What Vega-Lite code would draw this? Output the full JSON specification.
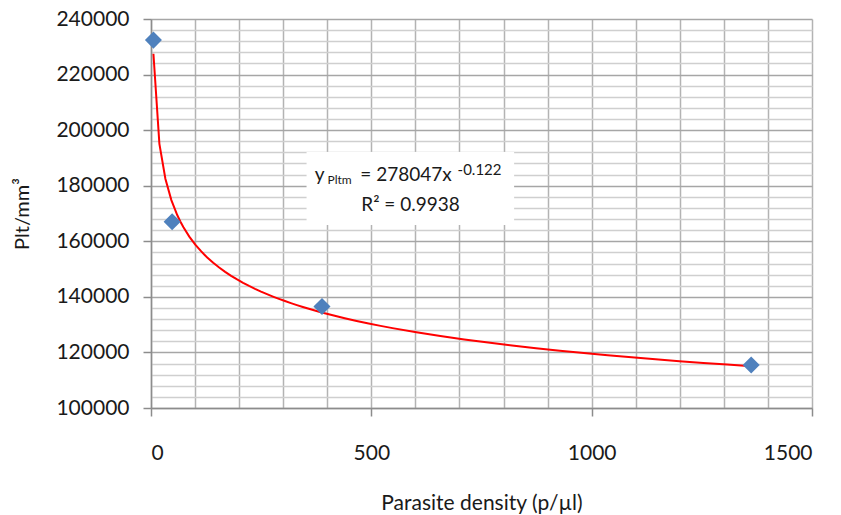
{
  "$schema": "https://vega.github.io/schema/vega-lite/v6.json",
  "width": 661,
  "height": 389,
  "autosize": "none",
  "padding": {"left": 151, "top": 19, "right": 29, "bottom": 107},
  "background": "white",
  "config": {
    "view": {"stroke": null},
    "font": "Lato",
    "axis": {"labelFont": "Lato", "titleFont": "Lato", "labelColor": "#1a1a1a", "titleColor": "#1a1a1a", "titleFontWeight": "normal", "domainColor": "#8c8c8c", "tickColor": "#8c8c8c", "domainWidth": 1.5, "tickWidth": 1.5}
  },
  "datasets": {
    "points": [
      {"density": 5.5, "plt": 232400},
      {"density": 48, "plt": 167000},
      {"density": 388, "plt": 136500},
      {"density": 1362, "plt": 115500}
    ],
    "note": [
      {"bx1": 353, "bx2": 824, "by1": 192100, "by2": 165900, "x": 589, "y1": 184000, "y2": 173000, "yv": "y", "sub": "Pltm", "eq": "= 278047x", "sup": "-0.122", "r2": "R² = 0.9938"}
    ]
  },
  "layer": [
    {
      "data": {"name": "points"},
      "mark": {"type": "point", "opacity": 0},
      "encoding": {
        "x": {
          "field": "density", "type": "quantitative",
          "scale": {"domain": [0, 1500], "nice": false},
          "axis": {
            "values": [0,100,200,300,400,500,600,700,800,900,1000,1100,1200,1300,1400,1500],
            "tickCount": 100,
            "format": "d",
            "labelExpr": "datum.value % 500 === 0 ? datum.label : ''",
            "tickOpacity": {"expr": "datum.value % 500 === 0 ? 1 : 0"},
            "grid": true, "gridColor": "#b3b3b3", "gridWidth": 1.5,
            "tickSize": 8, "labelPadding": 26, "labelFontSize": 21,
            "title": "Parasite density (p/µl)", "titleFontSize": 21, "titlePadding": 29
          }
        },
        "y": {
          "field": "plt", "type": "quantitative",
          "scale": {"domain": [100000, 240000], "nice": false, "zero": false},
          "axis": {
            "values": [100000,104000,108000,112000,116000,120000,124000,128000,132000,136000,140000,144000,148000,152000,156000,160000,164000,168000,172000,176000,180000,184000,188000,192000,196000,200000,204000,208000,212000,216000,220000,224000,228000,232000,236000,240000],
            "tickCount": 200,
            "format": "d",
            "labelExpr": "datum.value % 20000 === 0 ? datum.label : ''",
            "tickOpacity": {"expr": "datum.value % 20000 === 0 ? 1 : 0"},
            "grid": true,
            "gridColor": {"expr": "datum.value % 20000 === 0 ? '#a6a6a6' : '#cfcfcf'"},
            "gridWidth": 1.5,
            "labelOverlap": false,
            "tickSize": 8, "labelPadding": 14, "labelFontSize": 21,
            "title": "Plt/mm³", "titleFontSize": 20, "titlePadding": 23
          }
        }
      }
    },
    {
      "data": {"name": "note"},
      "mark": {"type": "rect", "color": "white"},
      "encoding": {
        "x": {"field": "bx1", "type": "quantitative"},
        "x2": {"field": "bx2"},
        "y": {"field": "by1", "type": "quantitative"},
        "y2": {"field": "by2"}
      }
    },
    {
      "data": {"name": "points"},
      "transform": [{"regression": "plt", "on": "density", "method": "pow"}],
      "mark": {"type": "line", "color": "#ff0000", "strokeWidth": 2},
      "encoding": {
        "x": {"field": "density", "type": "quantitative"},
        "y": {"field": "plt", "type": "quantitative"}
      }
    },
    {
      "data": {"name": "points"},
      "mark": {"type": "point", "shape": "diamond", "filled": true, "size": 290, "color": "#4f81bd", "opacity": 1},
      "encoding": {
        "x": {"field": "density", "type": "quantitative"},
        "y": {"field": "plt", "type": "quantitative"}
      }
    },
    {
      "data": {"name": "note"},
      "mark": {"type": "text", "font": "Lato", "fontSize": 19, "color": "#1a1a1a", "align": "center", "baseline": "middle", "dx": -91},
      "encoding": {
        "x": {"field": "x", "type": "quantitative"},
        "y": {"field": "y1", "type": "quantitative"},
        "text": {"field": "yv"}
      }
    },
    {
      "data": {"name": "note"},
      "mark": {"type": "text", "font": "Lato", "fontSize": 12, "color": "#1a1a1a", "align": "center", "baseline": "middle", "dx": -71, "dy": 5.5},
      "encoding": {
        "x": {"field": "x", "type": "quantitative"},
        "y": {"field": "y1", "type": "quantitative"},
        "text": {"field": "sub"}
      }
    },
    {
      "data": {"name": "note"},
      "mark": {"type": "text", "font": "Lato", "fontSize": 19, "color": "#1a1a1a", "align": "center", "baseline": "middle", "dx": -4.5},
      "encoding": {
        "x": {"field": "x", "type": "quantitative"},
        "y": {"field": "y1", "type": "quantitative"},
        "text": {"field": "eq"}
      }
    },
    {
      "data": {"name": "note"},
      "mark": {"type": "text", "font": "Lato", "fontSize": 15, "color": "#1a1a1a", "align": "center", "baseline": "middle", "dx": 69, "dy": -5},
      "encoding": {
        "x": {"field": "x", "type": "quantitative"},
        "y": {"field": "y1", "type": "quantitative"},
        "text": {"field": "sup"}
      }
    },
    {
      "data": {"name": "note"},
      "mark": {"type": "text", "font": "Lato", "fontSize": 19, "color": "#1a1a1a", "align": "center", "baseline": "middle"},
      "encoding": {
        "x": {"field": "x", "type": "quantitative"},
        "y": {"field": "y2", "type": "quantitative"},
        "text": {"field": "r2"}
      }
    }
  ]
}
